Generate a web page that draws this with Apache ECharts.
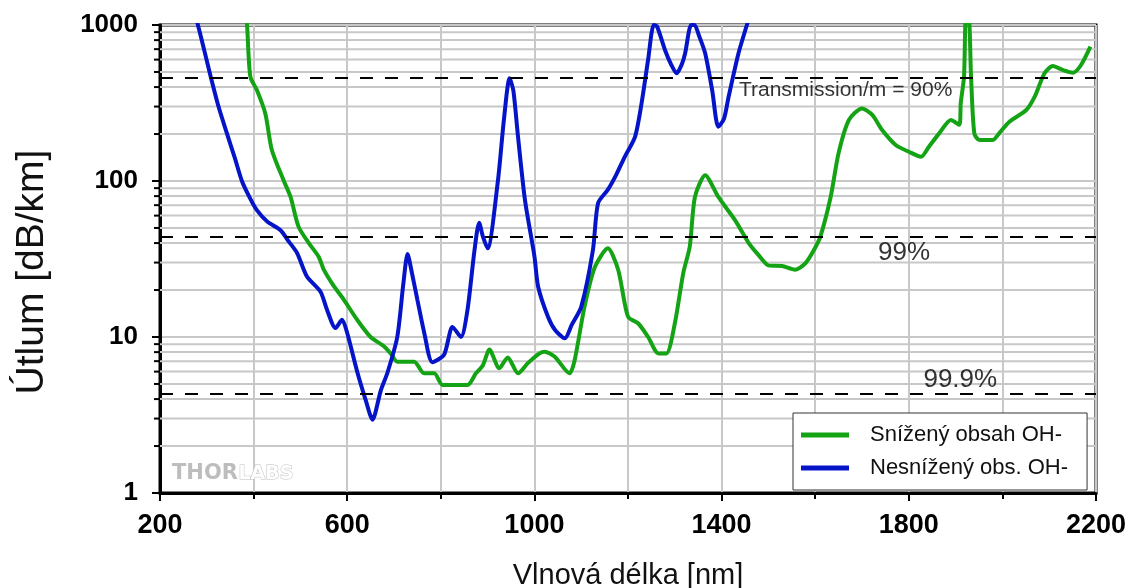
<!DOCTYPE html>
<html><head><meta charset="utf-8">
<script src="https://cdn.jsdelivr.net/npm/echarts@6/dist/echarts.min.js"></script>
<style>html,body{margin:0;padding:0;background:#fff}#c{width:1131px;height:588px}</style>
</head><body><div id="c"></div>
<script>
const X_MIN = 200, X_MAX = 2200;
const X_TICKS = [200, 600, 1000, 1400, 1800, 2200];
const Y_TICKS = [1, 10, 100, 1000];
const MINOR_Y = [2,3,4,5,6,7,8,9,20,30,40,50,60,70,80,90,200,300,400,500,600,700,800,900];

const NAME_GREEN = 'Snížený obsah OH-';
const NAME_BLUE = 'Nesnížený obs. OH-';

const NM_GREEN = [382,386,393,407,425,439,464,479,496,518,539,550,570,593,622,650,679,695,707,743,764,786,804,857,875,890,904,925,943,965,986,1011,1022,1043,1075,1086,1107,1129,1157,1179,1200,1222,1243,1265,1282,1300,1318,1332,1343,1365,1393,1429,1458,1479,1500,1529,1557,1579,1597,1611,1633,1650,1672,1700,1722,1743,1772,1800,1826,1843,1865,1890,1908,1911,1918,1922,1928,1933,1940,1951,1979,1993,2015,2051,2069,2090,2108,2129,2151,2168,2188];
const VAL_GREEN = [1300,1000,467,383,271,158,101,79,51,40,32.7,27,21.5,17.3,12.8,10,8.7,7.7,6.95,6.95,5.85,5.85,4.92,4.92,5.85,6.6,8.3,6.3,7.4,5.85,6.8,7.85,8.05,7.5,5.85,7.1,15.6,28,37,27,13.5,12.2,10,7.85,7.85,12.2,25.6,38,79,109,79,56,40,33.5,28.8,28.5,27,29.7,36,44,79,151,246,292,265,212,170,154,143,166,202,246,229,315,467,1100,1100,467,202,183,183,202,240,285,347,490,546,515,495,554,726];

const NM_BLUE = [270,281,295,309,325,343,360,375,392,407,429,457,475,493,514,543,557,575,589,600,622,640,654,672,686,707,720,729,738,750,765,782,807,825,843,857,872,882,890,900,922,935,947,955,965,980,1000,1008,1029,1045,1065,1080,1100,1125,1136,1157,1175,1193,1215,1229,1243,1255,1262,1279,1292,1304,1315,1322,1335,1342,1352,1365,1380,1393,1405,1415,1436,1454,1462];
const VAL_BLUE = [1300,1000,680,458,300,202,140,100,78,65,55,48.5,41,34.5,24.4,19.5,14.9,11.4,12.9,10.6,5.9,3.9,2.95,4.57,5.9,10,22,34,26,17.3,10.5,6.9,7.7,11.6,10,14.9,36,54,44,37,100,250,455,380,192,75,33,21,13.5,11,9.8,12,15.6,36,72,88,110,143,192,315,600,1000,980,692,560,490,560,657,1000,1000,850,657,380,223,250,347,657,1000,1200];

const REF_LINES = [458, 43.6, 4.35];
const REF_LABELS = [
  [1665, 383, 'Transmission/m = 90%', 21],
  [1790, 34.5, '99%', 26],
  [1910, 5.3, '99.9%', 26]
];

const chart = echarts.init(document.getElementById('c'), null, {renderer: 'canvas'});
const zip = (a, b) => a.map((x, i) => [x, b[i]]);
const FONT = 'Liberation Sans, Arial, sans-serif';

chart.setOption({
  animation: false,
  backgroundColor: '#fff',
  grid: {left: 160, right: 35, top: 25, bottom: 95, outerBoundsMode: 'none', containLabel: false,
    show: true, borderColor: '#000', borderWidth: 3, backgroundColor: 'transparent'},
  xAxis: {
    type: 'value', min: X_MIN, max: X_MAX, interval: 400,
    name: 'Vlnová délka [nm]', nameLocation: 'middle', nameGap: 68,
    nameTextStyle: {fontFamily: FONT, fontSize: 29, color: '#111'},
    axisLine: {show: true, lineStyle: {color: '#000', width: 3}},
    axisTick: {show: true, length: 8, lineStyle: {color: '#000', width: 2}},
    minorTick: {show: true, splitNumber: 2, length: 6, lineStyle: {color: '#000', width: 2}},
    axisLabel: {margin: 19, fontFamily: FONT, fontWeight: 'bold', fontSize: 27, color: '#000',
      formatter: v => String(v)},
    splitLine: {show: true, lineStyle: {color: '#c8c8c8', width: 2}},
    minorSplitLine: {show: true, lineStyle: {color: '#c8c8c8', width: 2}}
  },
  yAxis: {
    type: 'log', min: 1, max: 1000, logBase: 10,
    axisLine: {show: true, lineStyle: {color: '#000', width: 3}},
    axisTick: {show: true, length: 8, lineStyle: {color: '#000', width: 2}},
    axisLabel: {margin: 22, fontFamily: FONT, fontWeight: 'bold', fontSize: 26, color: '#000',
      formatter: v => String(Math.round(v))},
    splitLine: {show: true, lineStyle: {color: '#c8c8c8', width: 2}}
  },
  legend: {
    orient: 'vertical', left: 793, top: 413,
    padding: [11, 19, 11, 8], itemGap: 11,
    backgroundColor: '#fff', borderColor: '#333', borderWidth: 1,
    icon: 'rect', itemWidth: 48, itemHeight: 5,
    textStyle: {fontFamily: FONT, fontSize: 22, color: '#111', padding: [0, 0, 0, 16]},
    data: [NAME_GREEN, NAME_BLUE]
  },
  graphic: [
    {type: 'text', x: 32, y: 272, rotation: Math.PI / 2, z: 10,
      style: {text: 'Útlum [dB/km]', font: '39px ' + FONT, fill: '#111', textAlign: 'center', textVerticalAlign: 'middle'}},
    {type: 'text', left: 172, top: 463, z: 1, style: {text: 'THOR', font: 'bold 21px DejaVu Sans, Arial', fill: '#bdbdbd'}},
    {type: 'text', left: 238, top: 464, z: 1, style: {text: 'LABS', font: 'bold 19px DejaVu Sans, Arial', fill: '#fff', stroke: '#bdbdbd', lineWidth: 1}}
  ],
  series: [
    {
      type: 'custom', z: 1, silent: true, clip: false,
      data: MINOR_Y.map(v => [X_MIN, v]),
      renderItem: function (params, api) {
        const v = api.value(1);
        const p1 = api.coord([X_MIN, v]);
        const p2 = api.coord([X_MAX, v]);
        return {type: 'group', children: [
          {type: 'line', shape: {x1: p1[0], y1: p1[1], x2: p2[0], y2: p2[1]}, style: {stroke: '#c8c8c8', lineWidth: 2}},
          {type: 'line', shape: {x1: p1[0] - 6, y1: p1[1], x2: p1[0], y2: p1[1]}, style: {stroke: '#000', lineWidth: 2}}
        ]};
      }
    },
    {
      name: NAME_GREEN, type: 'line', data: zip(NM_GREEN, VAL_GREEN), showSymbol: false, smooth: 0.25,
      lineStyle: {color: '#14a314', width: 4}, itemStyle: {color: '#14a314'}, z: 3,
      markLine: {
        silent: true, symbol: 'none', animation: false,
        lineStyle: {color: '#000', type: [13, 12], width: 2},
        label: {show: false},
        data: REF_LINES.map(v => ({yAxis: v}))
      }
    },
    {
      name: NAME_BLUE, type: 'line', data: zip(NM_BLUE, VAL_BLUE), showSymbol: false, smooth: 0.25,
      lineStyle: {color: '#0514c8', width: 4}, itemStyle: {color: '#0514c8'}, z: 4
    },
    {
      type: 'scatter', symbolSize: 0, silent: true, z: 5,
      data: REF_LABELS.map(r => ({value: [r[0], r[1]], label: {formatter: r[2], fontSize: r[3]}})),
      label: {show: true, position: 'inside', fontFamily: FONT, color: '#000'}
    }
  ]
});
</script></body></html>
